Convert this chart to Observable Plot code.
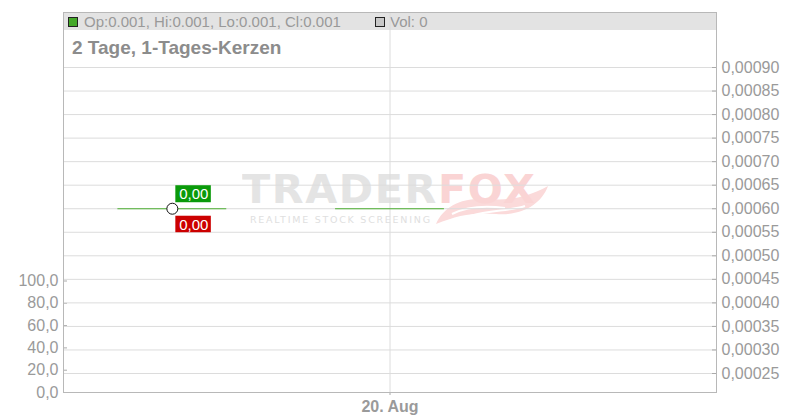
<!DOCTYPE html>
<html><head><meta charset="utf-8">
<script src="https://cdn.jsdelivr.net/npm/d3@7"></script>
<script src="https://cdn.jsdelivr.net/npm/@observablehq/plot@0.6"></script>
<style>
body{margin:0;background:#fff;}
#wrap{position:relative;width:800px;height:420px;overflow:hidden;font-family:"Liberation Sans",Arial,sans-serif;}
#wrap > *{position:absolute;}
#band{left:63px;top:12px;width:653px;height:18px;background:#e3e3e3;}
.sq{display:inline-block;width:10px;height:10px;box-sizing:border-box;border:1px solid #222;position:absolute;}
#legend{left:0;top:0;width:800px;height:40px;font-size:15px;line-height:15px;color:#999;}
#legend span.t{position:absolute;white-space:nowrap;}
#title{left:72px;top:38px;font-size:19px;line-height:19px;font-weight:bold;color:#8c8c8c;white-space:nowrap;}
#tail{left:0;top:0;}
#wm{left:242px;top:170px;white-space:nowrap;}
#wm .big{font-family:"DejaVu Sans",sans-serif;font-weight:bold;font-size:39px;line-height:39px;letter-spacing:1.5px;transform:scaleX(1.06);transform-origin:left top;}
#wm .sub{font-family:"DejaVu Sans",sans-serif;font-size:9.5px;letter-spacing:1.75px;color:#e0e0e0;margin-left:8px;margin-top:5px;}
#vol,#price{left:0;top:0;}
</style></head><body>
<div id="wrap">
  <div id="band"></div>
  <svg id="tail" width="800" height="420"><path d="M436,224 C444,206 462,197 488,199 C510,201 528,197 548,186 C541,205 521,216 496,214 C474,212 458,215 436,224 Z" fill="#fbdada"/><path d="M452,214 C470,205 490,206 505,208 M470,216 C490,210 510,211 525,206" stroke="#fff" stroke-width="2" fill="none"/></svg>
  <div id="wm"><div class="big"><span style="color:#e4e4e4">TRADER</span><span style="color:#fad4d4">FOX</span></div><div class="sub">REALTIME STOCK SCREENING</div></div>
  <div id="legend"></div>
  <div id="title"></div>
  <div id="vol"></div>
  <div id="price"></div>
</div>
<script>
// ---- data ----
const dates = ["2024-08-19", "2024-08-20"];
const opens = [0.0006, 0.0006];
const highs = [0.0006, 0.0006];
const lows = [0.0006, 0.0006];
const closes = [0.0006, 0.0006];
const volumes = [0, 0];
const priceTicks = [0.00025, 0.00030, 0.00035, 0.00040, 0.00045, 0.00050, 0.00055, 0.00060, 0.00065, 0.00070, 0.00075, 0.00080, 0.00085, 0.00090];
const volumeTicks = [0, 20, 40, 60, 80, 100];
const xTickDates = ["2024-08-20"];
const titleText = "2 Tage, 1-Tages-Kerzen";
const labelUp = "0,00";
const labelDown = "0,00";

const data = dates.map((d, i) => ({date: new Date(d), open: opens[i], high: highs[i], low: lows[i], close: closes[i], volume: volumes[i]}));
const xTicks = xTickDates.map(d => new Date(d));
const last = data[data.length - 1];

document.getElementById("title").textContent = titleText;
const f3 = v => v.toFixed(3);
document.getElementById("legend").innerHTML =
  `<span class="sq" style="left:68px;top:17px;background:#44a829"></span>` +
  `<span class="t" style="left:84px;top:14px">Op:${f3(last.open)}, Hi:${f3(last.high)}, Lo:${f3(last.low)}, Cl:${f3(last.close)}</span>` +
  `<span class="sq" style="left:375px;top:17px;background:#c8c8c8"></span>` +
  `<span class="t" style="left:390px;top:14px">Vol: ${last.volume}</span>`;

const W = 800, H = 420;
const margins = {marginLeft: 63, marginRight: 84, marginTop: 12, marginBottom: 28};
const xScale = {type: "utc", domain: [new Date(Date.UTC(2024, 7, 18, 12)), new Date(Date.UTC(2024, 7, 21, 12))]};
const green = "#4caf32";
const style = {background: "transparent", fontFamily: "Liberation Sans, Arial, sans-serif", fontSize: "16px", color: "#9a9a9a", overflow: "visible"};
const comma = s => s.replace(".", ",");

// volume panel (left axis)
const vol = Plot.plot({
  width: W, height: H, ...margins, style,
  x: {...xScale, axis: null, label: null},
  y: {domain: [0, 100], range: [392, 280.5], axis: null, label: null},
  marks: [
    Plot.rectY(data, {x1: d => d3.utcHour.offset(d.date, -6), x2: d => d3.utcHour.offset(d.date, 6), y: "volume", fill: "#c8c8c8"}),
    Plot.axisY(volumeTicks, {anchor: "left", label: null, tickSize: 0, tickPadding: 5, tickFormat: d => comma(d.toFixed(1))}),
    Plot.ruleY(volumeTicks, {y: d => d, insetRight: 649, stroke: "#aaa"})
  ]
});
document.getElementById("vol").appendChild(vol);

// price panel (right axis)
const price = Plot.plot({
  width: W, height: H, ...margins, style,
  x: {...xScale, axis: null, label: null},
  y: {domain: [0.00025, 0.0009], range: [373, 67], axis: null, label: null},
  marks: [
    Plot.gridY(priceTicks, {stroke: "#dcdcdc", strokeOpacity: 1}),
    Plot.gridX(xTicks, {stroke: "#dcdcdc", strokeOpacity: 1}),
    Plot.ruleY(priceTicks, {y: d => d, insetLeft: 649, stroke: "#aaa"}),
    Plot.axisY(priceTicks, {anchor: "right", label: null, tickSize: 0, tickPadding: 5, tickFormat: d => comma(d.toFixed(5))}),
    Plot.axisX(xTicks, {anchor: "bottom", label: null, tickSize: 3, tickPadding: 5, fontWeight: "bold", stroke: "#aaa", tickFormat: d3.utcFormat("%-d. %b")}),
    Plot.frame({stroke: "#b8b8b8"}),
    Plot.ruleX(data, {x: "date", y1: "low", y2: "high", stroke: green}),
    Plot.ruleY(data, {y: "close", x1: d => d3.utcHour.offset(d.date, -6), x2: d => d3.utcHour.offset(d.date, 6), stroke: green, strokeWidth: 1.2}),
    Plot.dot([data[0]], {x: "date", y: "close", r: 5.5, fill: "white", stroke: "#111", strokeWidth: 1}),
    Plot.rect([data[0]], {x1: "date", x2: "date", y1: "close", y2: "close", insetLeft: 3.5, insetRight: -39, insetTop: -23, insetBottom: 6, fill: "#0a9a0a"}),
    Plot.rect([data[0]], {x1: "date", x2: "date", y1: "close", y2: "close", insetLeft: 3.5, insetRight: -39, insetTop: 7.5, insetBottom: -24, fill: "#cc0000"}),
    Plot.text([data[0]], {x: "date", y: "close", text: () => labelUp, dx: 21.5, dy: -14.5, fill: "white", fontSize: 15}),
    Plot.text([data[0]], {x: "date", y: "close", text: () => labelDown, dx: 21.5, dy: 16, fill: "white", fontSize: 15})
  ]
});
document.getElementById("price").appendChild(price);
</script>
</body></html>
